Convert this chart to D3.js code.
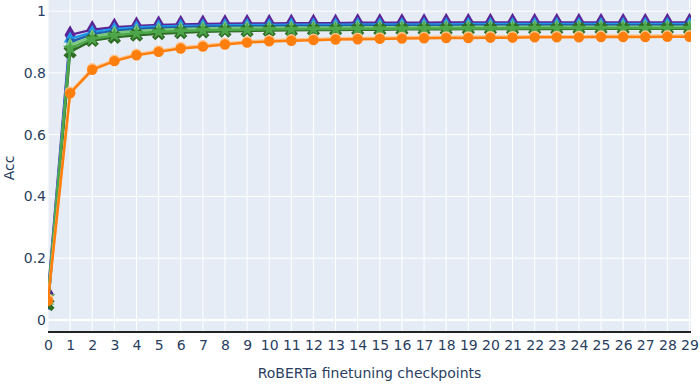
<!DOCTYPE html>
<html>
<head>
<meta charset="utf-8">
<script src="https://cdn.jsdelivr.net/npm/d3@7"></script>
<style>
  body { margin: 0; background: #fff; }
  text { font-family: "DejaVu Sans", Verdana, sans-serif; fill: #2a3f5f; }
</style>
</head>
<body>
<div id="chart"></div>
<script>
// checkpoints 0..29
var checkpoints = d3.range(0, 30);
var xTicks = d3.range(0, 30);
var yTicks = [0, 0.2, 0.4, 0.6, 0.8, 1];

var purple = [0.085, 0.923, 0.940, 0.948, 0.952, 0.955, 0.957, 0.958, 0.959, 0.960, 0.960, 0.961, 0.961, 0.961, 0.962, 0.962, 0.962, 0.962, 0.963, 0.963, 0.963, 0.963, 0.963, 0.963, 0.963, 0.963, 0.963, 0.963, 0.963, 0.963];
var lightBlue = [0.070, 0.910, 0.932, 0.942, 0.947, 0.950, 0.952, 0.953, 0.954, 0.955, 0.955, 0.956, 0.956, 0.956, 0.957, 0.957, 0.957, 0.957, 0.957, 0.958, 0.958, 0.958, 0.958, 0.958, 0.958, 0.958, 0.958, 0.958, 0.958, 0.958];
var blue = [0.045, 0.900, 0.925, 0.936, 0.942, 0.945, 0.947, 0.949, 0.950, 0.951, 0.951, 0.952, 0.952, 0.952, 0.953, 0.953, 0.953, 0.953, 0.953, 0.954, 0.954, 0.954, 0.954, 0.954, 0.954, 0.954, 0.954, 0.954, 0.954, 0.954];
var lightGreen = [0.060, 0.890, 0.918, 0.930, 0.936, 0.940, 0.942, 0.944, 0.945, 0.946, 0.946, 0.947, 0.947, 0.947, 0.948, 0.948, 0.948, 0.948, 0.948, 0.949, 0.949, 0.949, 0.949, 0.949, 0.949, 0.949, 0.949, 0.949, 0.949, 0.949];
var darkGreen = [0.050, 0.868, 0.905, 0.915, 0.922, 0.927, 0.930, 0.933, 0.935, 0.936, 0.937, 0.938, 0.939, 0.939, 0.940, 0.940, 0.941, 0.941, 0.941, 0.942, 0.942, 0.942, 0.942, 0.942, 0.943, 0.943, 0.943, 0.943, 0.943, 0.943];
var green = [0.075, 0.880, 0.910, 0.922, 0.928, 0.933, 0.936, 0.938, 0.939, 0.940, 0.941, 0.941, 0.942, 0.942, 0.943, 0.943, 0.943, 0.944, 0.944, 0.944, 0.944, 0.944, 0.945, 0.945, 0.945, 0.945, 0.945, 0.945, 0.945, 0.945];
var peach = [0.068, 0.738, 0.814, 0.842, 0.861, 0.872, 0.883, 0.889, 0.896, 0.902, 0.906, 0.908, 0.910, 0.912, 0.913, 0.914, 0.915, 0.916, 0.917, 0.917, 0.918, 0.918, 0.919, 0.919, 0.919, 0.920, 0.920, 0.920, 0.921, 0.921];
var orange = [0.062, 0.734, 0.810, 0.838, 0.857, 0.868, 0.879, 0.885, 0.892, 0.898, 0.902, 0.904, 0.906, 0.908, 0.909, 0.910, 0.911, 0.912, 0.913, 0.913, 0.914, 0.914, 0.915, 0.915, 0.915, 0.916, 0.916, 0.916, 0.917, 0.917];

var series = [
  { values: purple, color: '#5c2597', symbol: d3.symbolDiamond, size: 110 },
  { values: lightBlue, color: '#1e9be8', symbol: d3.symbolTriangle, size: 70 },
  { values: blue, color: '#1f5fae', symbol: d3.symbolSquare, size: 50 },
  { values: lightGreen, color: '#7cc97c', symbol: d3.symbolTriangle, size: 70 },
  { values: darkGreen, color: '#2e6b24', symbol: d3.symbolCross, size: 110, rotate: 45 },
  { values: green, color: '#4da64a', symbol: d3.symbolStar, size: 70 },
  { values: peach, color: '#ffc38a', symbol: d3.symbolCircle, size: 95 },
  { values: orange, color: '#ff7f0e', symbol: d3.symbolCircle, size: 85 }
];

var width = 700, height = 384;
var mLeft = 48, mRight = 691, mTop = 0, mBottom = 332;

var svg = d3.select('#chart').append('svg')
  .attr('width', width).attr('height', height);

svg.append('clipPath').attr('id', 'plotclip').append('rect')
  .attr('x', mLeft).attr('y', mTop)
  .attr('width', mRight - mLeft).attr('height', mBottom - mTop);

var x = d3.scaleLinear().domain([0, 29]).range([mLeft, 689.5]);
var y = d3.scaleLinear().domain([-0.039, 1.036]).range([mBottom, mTop]);

svg.append('rect')
  .attr('x', mLeft).attr('y', mTop)
  .attr('width', mRight - mLeft).attr('height', mBottom - mTop)
  .attr('fill', '#e5ecf6');

// grid
svg.append('g').selectAll('line').data(xTicks).enter().append('line')
  .attr('x1', function (d) { return x(d); }).attr('x2', function (d) { return x(d); })
  .attr('y1', mTop).attr('y2', mBottom)
  .attr('stroke', '#fff').attr('stroke-width', 1);

svg.append('g').selectAll('line').data(yTicks).enter().append('line')
  .attr('x1', mLeft).attr('x2', mRight)
  .attr('y1', function (d) { return y(d); }).attr('y2', function (d) { return y(d); })
  .attr('stroke', '#fff').attr('stroke-width', function (d) { return d === 0 ? 2 : 1; });

// axes
var xAxis = svg.append('g').attr('transform', 'translate(0,' + mBottom + ')')
  .call(d3.axisBottom(x).tickValues(xTicks).tickSize(0).tickPadding(8).tickFormat(d3.format('d')));
xAxis.select('.domain').attr('stroke', '#222').attr('stroke-width', 2).attr('d', 'M' + mLeft + ',0H' + mRight);
xAxis.selectAll('text').style('font-size', '14px').attr('fill', '#2a3f5f');

var yAxis = svg.append('g').attr('transform', 'translate(' + (mLeft - 2) + ',0)')
  .call(d3.axisLeft(y).tickValues(yTicks).tickSize(0).tickPadding(0).tickFormat(function (d) { return d === 0 || d === 1 ? d : d3.format('.1f')(d); }));
yAxis.select('.domain').remove();
yAxis.selectAll('text').style('font-size', '14px').attr('fill', '#2a3f5f');

svg.append('text').attr('x', (mLeft + mRight) / 2).attr('y', 378)
  .attr('text-anchor', 'middle').style('font-size', '14px')
  .text('RoBERTa finetuning checkpoints');

svg.append('text').attr('transform', 'translate(14,168) rotate(-90)')
  .attr('text-anchor', 'middle').style('font-size', '14px')
  .text('Acc');

// series
var line = d3.line().x(function (d, i) { return x(checkpoints[i]); }).y(function (d) { return y(d); });

var plot = svg.append('g').attr('clip-path', 'url(#plotclip)');
series.forEach(function (s) {
  var g = plot.append('g');
  g.append('path').datum(s.values)
    .attr('d', line).attr('fill', 'none')
    .attr('stroke', s.color).attr('stroke-width', 2.5);
  g.selectAll('path.m').data(s.values).enter().append('path')
    .attr('class', 'm')
    .attr('d', d3.symbol().type(s.symbol).size(s.size))
    .attr('transform', function (d, i) {
      return 'translate(' + x(checkpoints[i]) + ',' + y(d) + ')' + (s.rotate ? ' rotate(' + s.rotate + ')' : '');
    })
    .attr('fill', s.color);
});
</script>
</body>
</html>
